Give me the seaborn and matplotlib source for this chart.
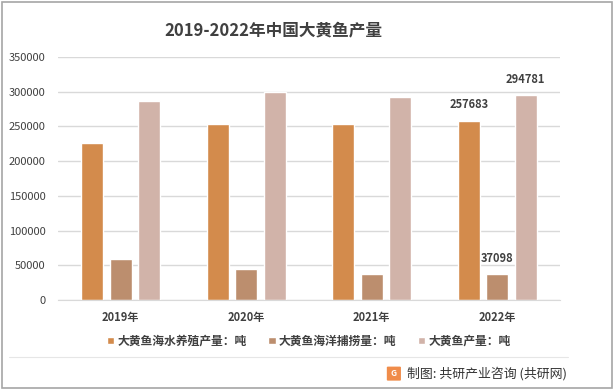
import matplotlib
matplotlib.use("Agg")
import matplotlib.pyplot as plt
from matplotlib.patches import Rectangle, FancyBboxPatch
import seaborn as sns
import pandas as pd

years = ["2019年", "2020年", "2021年", "2022年"]
series_names = ["大黄鱼海水养殖产量：吨", "大黄鱼海洋捕捞量：吨", "大黄鱼产量：吨"]
aquaculture = [225500, 254200, 254000, 257683]
catch = [59200, 44800, 37600, 37098]
total = [286000, 300300, 291800, 294781]
colors = ["#D38B4C", "#BC8E6E", "#D1B3A9"]

sns.set_style("white")
plt.rcParams["font.family"] = ["Noto Sans CJK SC", "DejaVu Sans"]

df = pd.DataFrame({
    "year": years * 3,
    "series": [s for s in series_names for _ in years],
    "value": aquaculture + catch + total,
})

fig = plt.figure(figsize=(6.14, 3.90), dpi=100)
ax = fig.add_axes([0.0945, 0.2308, 0.8176, 0.623])

sns.barplot(data=df, x="year", y="value", hue="series", palette=colors,
            width=0.68, gap=0.23, ax=ax, saturation=1)

ax.set_ylim(0, 350000)
ax.set_yticks(range(0, 350001, 50000))
ax.yaxis.grid(True, color="#D9D9D9", linewidth=1)
ax.set_axisbelow(True)
for side in ["top", "right", "left"]:
    ax.spines[side].set_visible(False)
ax.spines["bottom"].set_color("#D9D9D9")
ax.tick_params(axis="y", length=0, labelsize=8, labelcolor="#404040", pad=9)
ax.tick_params(axis="x", length=0, labelsize=8, labelcolor="#404040", pad=8)
for lbl in ax.get_xticklabels():
    lbl.set_fontweight("bold")
ax.set_xlabel("")
ax.set_ylabel("")

# value labels for the last year only
for cont in ax.containers:
    bar = cont.patches[-1]
    ax.annotate(f"{int(bar.get_height())}",
                (bar.get_x() + bar.get_width() / 2, bar.get_height()),
                xytext=(0, 7), textcoords="offset points",
                ha="center", va="bottom", fontsize=8, color="#404040",
                fontweight="bold")

handles, labels = ax.get_legend_handles_labels()
ax.legend(handles, labels, loc="center", bbox_to_anchor=(0.5, -0.17), ncol=3,
          frameon=False, handlelength=0.6, handleheight=0.6,
          handletextpad=0.3, columnspacing=1.8,
          prop={"weight": "bold", "size": 8.5})
for t in ax.get_legend().get_texts():
    t.set_color("#404040")

fig.text(0.445, 0.923, "2019-2022年中国大黄鱼产量", ha="center", va="center",
         fontsize=12, fontweight="bold", color="#404040")

# separator line and source note
fig.add_artist(plt.Line2D([0.015, 0.925], [0.085, 0.085], color="#E6E6E6",
                          linewidth=0.8, transform=fig.transFigure))
fig.add_artist(FancyBboxPatch((0.632, 0.026), 0.019, 0.032,
                              boxstyle="round,pad=0.002", facecolor="#F08C4A",
                              edgecolor="none", transform=fig.transFigure))
fig.text(0.6415, 0.042, "G", ha="center", va="center", fontsize=6,
         fontweight="bold", color="white")
fig.text(0.923, 0.042, "制图: 共研产业咨询 (共研网)", ha="right", va="center",
         fontsize=9.3, color="#333333")

# outer frame
fig.add_artist(Rectangle((0.004, 0.005), 0.992, 0.99, fill=False,
                         edgecolor="#A6A6A6", linewidth=1.2,
                         transform=fig.transFigure))

fig.savefig("out.png", dpi=100)
